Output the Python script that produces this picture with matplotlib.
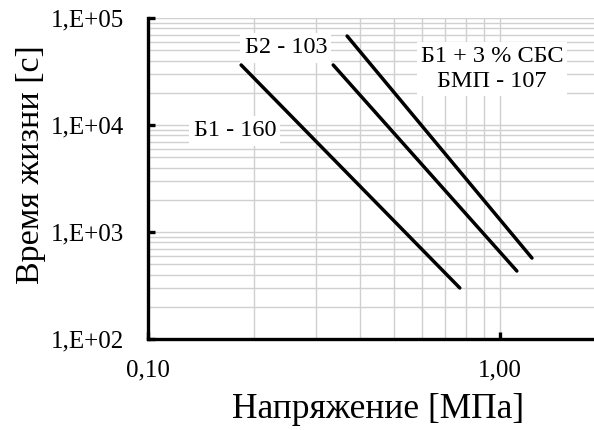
import math
import matplotlib
matplotlib.use("Agg")
import matplotlib.pyplot as plt
from matplotlib.ticker import LogLocator, FuncFormatter, NullFormatter

# Линии долговечности (напряжение МПа, время жизни с)
b1_x = [0.184, 0.769]
b1_y = [36400, 300]
b2_x = [0.336, 1.117]
b2_y = [36400, 432]
bmp_x = [0.368, 1.233]
bmp_y = [67900, 571]

labels = ["Б1 - 160", "Б2 - 103", "Б1 + 3 % СБС\nБМП - 107"]
label_pos = [(0.1766, 8800), (0.2466, 52500), (0.949, 33400)]

plt.rcParams['font.family'] = ['Liberation Serif', 'DejaVu Serif']

fig = plt.figure(figsize=(5.94, 4.30), dpi=100)
ax = fig.add_axes([0.249, 0.2116, 0.751, 0.7465])

for xs, ys in [(b1_x, b1_y), (b2_x, b2_y), (bmp_x, bmp_y)]:
    ax.plot(xs, ys, color='black', lw=2.5, solid_capstyle='round', zorder=3)

ax.set_xscale('log')
ax.set_yscale('log')
ax.set_xlim(0.1, 1.85)
ax.set_ylim(100, 100000)

ax.xaxis.set_major_locator(LogLocator(base=10, numticks=10))
ax.xaxis.set_minor_locator(LogLocator(base=10, subs=range(2, 10), numticks=10))
ax.yaxis.set_major_locator(LogLocator(base=10, numticks=10))
ax.yaxis.set_minor_locator(LogLocator(base=10, subs=range(2, 10), numticks=10))
ax.xaxis.set_minor_formatter(NullFormatter())
ax.yaxis.set_minor_formatter(NullFormatter())
ax.xaxis.set_major_formatter(FuncFormatter(lambda v, p: ('%.2f' % v).replace('.', ',')))
ax.yaxis.set_major_formatter(FuncFormatter(lambda v, p: '1,E+%02d' % round(math.log10(v))))

ax.grid(True, which='both', color='#d0d0d0', lw=1.0, zorder=0)
ax.set_axisbelow(True)

for s in ['top', 'right']:
    ax.spines[s].set_visible(False)
for s in ['left', 'bottom']:
    ax.spines[s].set_linewidth(2.4)

ax.tick_params(which='major', direction='in', length=5, width=2.4, labelsize=18)
ax.tick_params(which='minor', length=0)
ax.tick_params(axis='y', pad=17)
ax.tick_params(axis='x', pad=15)

for txt, (x, y) in zip(labels, label_pos):
    ax.text(x, y, txt, fontsize=17.5, ha='center', va='center', linespacing=1.2,
            bbox=dict(facecolor='white', edgecolor='none', pad=3), zorder=4)

ax.set_xlabel('Напряжение [МПа]', fontsize=25.5)
ax.set_ylabel('Время жизни [с]', fontsize=24.5)
ax.xaxis.label.set_verticalalignment('center')
ax.yaxis.label.set_verticalalignment('center')
ax.xaxis.set_label_coords(0.515, -0.221)
ax.yaxis.set_label_coords(-0.262, 0.542)

fig.savefig('out.png', dpi=100)
